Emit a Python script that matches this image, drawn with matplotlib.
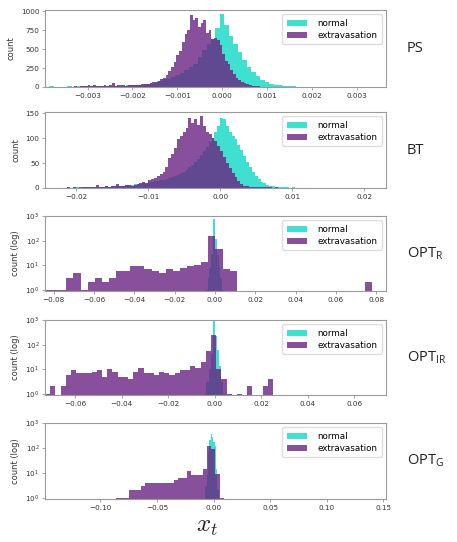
"""
Histograms of x_t for normal and extravasation pixels, one panel per modality
"""

import numpy as np
import matplotlib
matplotlib.use('Agg')
import matplotlib.pyplot as plt
from matplotlib.ticker import NullLocator

plt.rcParams['mathtext.fontset'] = 'custom'
plt.rcParams['mathtext.rm'] = 'Open Sans'

# bins: start, width, counts
ps_normal_start = -0.00385
ps_normal_width = 0.0001
ps_normal_counts = [8, 5, 6, 5, 7, 6, 8, 7, 9, 10, 11, 12, 12, 14, 15, 16, 18, 20, 24, 28,
                    32, 38, 45, 55, 85, 100, 110, 130, 160, 190, 225, 270, 310, 400, 485, 570, 640, 780,
                    970, 820, 680, 570, 460, 355, 270, 195, 140, 95, 65, 40, 25, 20, 15, 10, 8, 6, 5, 3]
ps_extra_start = -0.0039
ps_extra_width = 0.00006
ps_extra_counts = [5, 3, 4, 6, 3, 5, 4, 6, 5, 4, 7, 6, 8, 7, 9, 30, 18, 20, 17, 19,
                   16, 21, 18, 20, 50, 19, 22, 20, 24, 18, 30, 26, 28, 30, 33, 36, 42, 40,
                   55, 62, 70, 85, 100, 125, 160, 210, 260, 330, 420, 480, 590, 700, 760, 950, 880, 910,
                   790, 840, 880, 720, 760, 640, 650, 620, 550, 440, 350, 300, 225, 170, 125, 95, 70, 50,
                   38, 25, 18, 12, 8, 6, 4, 3, 2, 5, 2]

bt_normal_start = -0.0216
bt_normal_width = 0.0004
bt_normal_counts = [1, 2, 1, 2, 2, 1, 2, 3, 2, 2, 3, 2, 3, 3, 4, 3, 4,
                    4, 4, 5, 5, 6, 6, 7, 8, 8, 9, 10, 11, 12, 13, 14, 15, 16, 17, 19, 20,
                    22, 24, 26, 30, 33, 36, 42, 47, 52, 58, 66, 74, 82, 92, 100, 112, 125,
                    140, 138, 125, 113, 105, 98, 87, 76, 65, 52, 42, 32, 25, 18, 13, 10, 7, 5, 4, 3,
                    3, 2, 2, 2, 1, 2, 1, 1, 1, 1, 1, 1, 1]
bt_extra_start = -0.0216
bt_extra_width = 0.0004
bt_extra_counts = [1, 2, 1, 2, 1, 2, 3, 2, 2, 3, 2, 7, 3, 3, 4, 3, 4,
                   5, 8, 5, 4, 6, 6, 5, 7, 8, 10, 12, 11, 16, 18, 20, 24, 28, 33, 42, 60,
                   68, 80, 98, 105, 112, 121, 140, 131, 138, 127, 145, 124, 113, 108, 100, 94, 85,
                   75, 62, 50, 40, 30, 22, 15, 9, 5, 4, 3, 2, 3, 2, 3, 2, 2, 3, 1, 2,
                   1, 1, 1, 1, 0, 1, 1]

optr_normal_start = -0.0045
optr_normal_width = 0.0009
optr_normal_counts = [1, 3, 8, 30, 750, 115, 25, 8, 3, 1]
optr_extra_start = -0.0843
optr_extra_width = 0.003524
optr_extra_counts = [1, 1, 1, 3, 5, 1, 2, 3, 2, 3, 6, 6, 9, 9, 7, 6, 5, 7, 6, 8,
                     9, 10, 13, 155, 46, 7, 6, 0, 0, 0, 0, 0, 0, 0, 0, 0, 0, 0,
                     0, 0, 0, 0, 0, 0, 0, 2]

optir_normal_start = -0.0045
optir_normal_width = 0.0009
optir_normal_counts = [1, 3, 10, 40, 1300, 230, 60, 14, 3, 1]
optir_extra_start = -0.073
optir_extra_width = 0.00223
optir_extra_counts = [1, 2, 0, 2, 6, 9, 7, 7, 7, 8, 9, 5, 10, 8, 5, 5, 4, 8, 11, 7,
                      7, 6, 8, 7, 6, 7, 9, 9, 13, 11, 19, 56, 243, 10, 4, 1, 0, 1, 0, 2,
                      0, 0, 2, 4]

optg_normal_start = -0.0073
optg_normal_width = 0.0012
optg_normal_counts = [3, 8, 60, 200, 350, 280, 180, 120, 15, 2]
optg_extra_start = -0.0859
optg_extra_width = 0.00365
optg_extra_counts = [1, 1, 1, 2, 2, 2, 3, 4, 4, 4, 4, 4, 4, 4, 5, 6, 6, 12, 8, 8,
                     8, 14, 120, 90, 9, 1]

panel_names = ['PS', 'BT', 'OPT$_\\mathrm{R}$', 'OPT$_\\mathrm{IR}$', 'OPT$_\\mathrm{G}$']
panel_xlims = [(-0.00395, 0.00365), (-0.0243, 0.0230), (-0.0843, 0.0849),
               (-0.0730, 0.0736), (-0.149, 0.1525)]

NORMAL_COLOR = 'turquoise'
EXTRA_COLOR = '#6a2383'
SPINE_COLOR = '#9a9a9a'


def draw_hist(ax, start, width, counts, log, **kw):
    counts = np.asarray(counts, dtype=float)
    edges = start + width * np.arange(len(counts) + 1)
    centers = edges[:-1] + width / 2
    ax.hist(centers, bins=edges, weights=counts, histtype='stepfilled', log=log, **kw)


def draw_panel(ax, normal, extra, log, xlim, ylabel):
    draw_hist(ax, *normal, log, color=NORMAL_COLOR, label='normal')
    draw_hist(ax, *extra, log, color=EXTRA_COLOR, alpha=0.8, label='extravasation')
    ax.set_xlim(*xlim)
    if log:
        ax.set_ylim(0.9, 1000)
        ax.set_yticks([1, 10, 100, 1000])
        ax.yaxis.set_minor_locator(NullLocator())
    ax.set_ylabel(ylabel, fontsize=6, color='#333333', labelpad=4)
    ax.tick_params(labelsize=5.2, length=2.5, width=0.6, color=SPINE_COLOR,
                   labelcolor='#333333', pad=1.5)
    for side in ax.spines.values():
        side.set_color(SPINE_COLOR)
        side.set_linewidth(0.8)
    ax.legend(loc='upper right', fontsize=6.3, handlelength=2.3, borderpad=0.5,
              labelspacing=0.35, handletextpad=1.2, framealpha=1, edgecolor='#dddddd')


fig = plt.figure(figsize=(4.57, 5.42), dpi=100)
# axes boxes in pixels: top, bottom
boxes = [(10, 87), (112, 188), (216, 291), (320, 395), (423, 499)]
data = [((ps_normal_start, ps_normal_width, ps_normal_counts),
         (ps_extra_start, ps_extra_width, ps_extra_counts), False),
        ((bt_normal_start, bt_normal_width, bt_normal_counts),
         (bt_extra_start, bt_extra_width, bt_extra_counts), False),
        ((optr_normal_start, optr_normal_width, optr_normal_counts),
         (optr_extra_start, optr_extra_width, optr_extra_counts), True),
        ((optir_normal_start, optir_normal_width, optir_normal_counts),
         (optir_extra_start, optir_extra_width, optir_extra_counts), True),
        ((optg_normal_start, optg_normal_width, optg_normal_counts),
         (optg_extra_start, optg_extra_width, optg_extra_counts), True)]

for i, ((top, bottom), (normal, extra, log)) in enumerate(zip(boxes, data)):
    ax = fig.add_axes([45 / 457, 1 - bottom / 542, 341 / 457, (bottom - top) / 542])
    draw_panel(ax, normal, extra, log, panel_xlims[i], 'count (log)' if log else 'count')
    fig.text(407 / 457, 1 - (top + bottom) / 2 / 542, panel_names[i],
             fontsize=10.5, family='Open Sans', color='#222222', ha='left', va='center')

fig.text(207 / 457, 1 - 526 / 542, '$x_t$', fontsize=18, math_fontfamily='cm',
         color='#222222', ha='center', va='center')

plt.savefig('out.png', dpi=100)
